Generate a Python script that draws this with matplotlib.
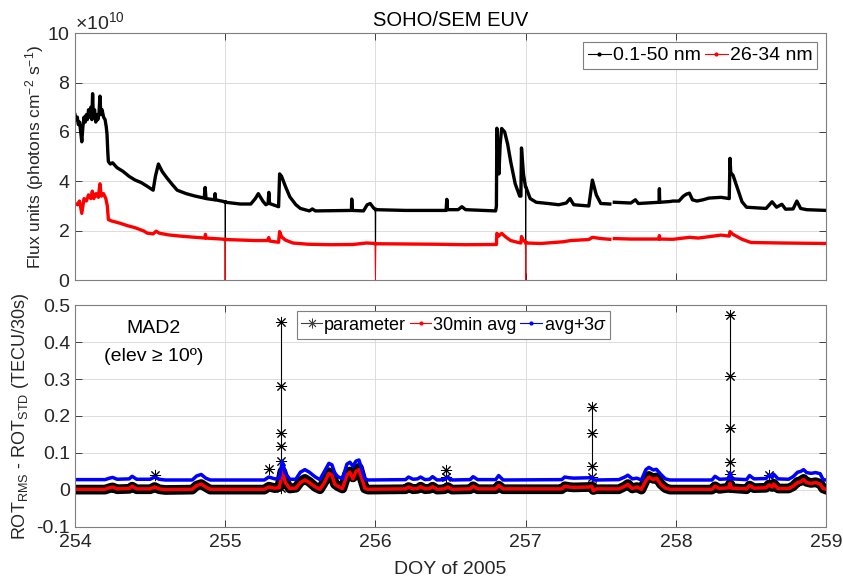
import numpy as np
import matplotlib
matplotlib.use("Agg")
import matplotlib.pyplot as plt
from matplotlib.lines import Line2D
from matplotlib.ticker import ScalarFormatter

plt.rcParams['font.family'] = ['Liberation Sans', 'DejaVu Sans']
plt.rcParams['mathtext.fontset'] = 'custom'
plt.rcParams['mathtext.rm'] = 'Liberation Sans'
plt.rcParams['mathtext.it'] = 'Liberation Sans:italic'

NAN = np.nan

# --- SOHO/SEM EUV flux (units of 1e10 photons cm^-2 s^-1) ---
# 0.1-50 nm channel
euv_broad_t = [254.000, 254.008, 254.015, 254.022, 254.030, 254.038, 254.045, 254.052, 254.060, 254.068,
               254.075, 254.082, 254.090, 254.098, 254.105, 254.112, 254.117, 254.122, 254.130, 254.138,
               254.145, 254.152, 254.160, 254.166, 254.172, 254.180, 254.190, 254.200, 254.208, 254.213,
               254.218, 254.222, 254.235, 254.25, 254.28, 254.32, 254.36, 254.40, 254.44, 254.48,
               254.52, 254.535, 254.555, 254.58, 254.61, 254.65, 254.68, 254.74, 254.80, 254.86,
               254.866, 254.872, 254.93, 254.932, 254.936, 254.998, 255.000, 255.002, 255.10, 255.17,
               255.20, 255.22, 255.25, 255.27, 255.285, 255.29, 255.295, 255.355, 255.362, 255.375,
               255.40, 255.43, 255.47, 255.50, 255.56, 255.58, 255.60, 255.84, 255.842, 255.846,
               255.92, 255.945, 255.965, 255.99, 255.998, 256.000, 256.002, 256.20, 256.47, 256.475,
               256.48, 256.55, 256.575, 256.60, 256.80, 256.805, 256.808, 256.815, 256.822, 256.83,
               256.84, 256.86, 256.88, 256.90, 256.93, 256.96, 256.968, 256.972, 256.985, 256.998,
               257.000, 257.002, 257.03, 257.07, 257.15, 257.22, 257.27, 257.295, 257.32, 257.42,
               257.444, 257.47, 257.50, 257.56, 257.575, 257.59, 257.70, 257.73, 257.75, 257.888,
               257.89, 257.892, 257.96, 257.98, 258.02, 258.05, 258.07, 258.09, 258.11, 258.14,
               258.18, 258.22, 258.30, 258.355, 258.36, 258.365, 258.38, 258.405, 258.44, 258.47,
               258.60, 258.64, 258.67, 258.705, 258.73, 258.78, 258.805, 258.83, 258.87, 259.00]
euv_broad = [6.7, 6.5, 6.6, 6.3, 6.4, 6.0, 5.6, 6.2, 6.6, 6.4,
             6.7, 6.5, 6.9, 6.6, 7.0, 6.5, 7.55, 6.6, 6.9, 6.4,
             6.7, 6.5, 6.8, 7.45, 6.7, 6.9, 6.6, 6.5, 6.2, 5.9,
             5.2, 4.8, 4.7, 4.75, 4.55, 4.4, 4.2, 4.05, 3.95, 3.8,
             3.64, 4.2, 4.7, 4.4, 4.15, 3.85, 3.64, 3.5, 3.4, 3.32,
             3.75, 3.3, 3.25, 3.5, 3.25, 3.17, 0.0, 3.15, 3.08, 3.08,
             3.3, 3.5, 3.2, 3.05, 3.1, 3.55, 3.1, 2.97, 4.3, 4.2,
             3.8, 3.37, 3.05, 2.9, 2.8, 2.88, 2.8, 2.82, 3.28, 2.82,
             2.8, 3.05, 3.1, 2.9, 2.88, 0.0, 2.85, 2.82, 2.82, 3.27,
             2.85, 2.85, 2.97, 2.85, 2.8, 3.0, 6.15, 5.0, 4.3, 5.5,
             6.14, 6.0, 5.5, 4.8, 3.9, 3.4, 3.4, 5.35, 4.3, 3.8,
             0.0, 3.75, 3.3, 3.15, 3.1, 3.05, 3.12, 3.3, 3.05, 3.0,
             4.05, 3.45, 3.1, 3.08, NAN, 3.15, 3.12, 3.25, 3.1, 3.15,
             3.7, 3.15, 3.18, 3.2, 3.2, 3.4, 3.48, 3.52, 3.25, 3.2,
             3.25, 3.32, 3.35, 3.3, 4.93, 4.35, 4.25, 3.8, 3.17, 2.95,
             2.9, 3.17, 2.95, 3.07, 2.87, 2.88, 3.2, 2.9, 2.85, 2.82]

# 26-34 nm channel
euv_band_t = [254.000, 254.015, 254.030, 254.045, 254.060, 254.075, 254.090, 254.105, 254.115, 254.125,
              254.140, 254.155, 254.166, 254.175, 254.19, 254.205, 254.215, 254.222, 254.24, 254.30,
              254.35, 254.40, 254.46, 254.48, 254.52, 254.54, 254.56, 254.62, 254.70, 254.80,
              254.866, 254.868, 254.872, 254.95, 254.998, 255.000, 255.002, 255.10, 255.20, 255.28,
              255.29, 255.295, 255.355, 255.362, 255.375, 255.40, 255.45, 255.55, 255.70, 255.85,
              255.94, 255.998, 256.000, 256.002, 256.20, 256.40, 256.60, 256.805, 256.808, 256.82,
              256.84, 256.87, 256.90, 256.95, 256.968, 256.972, 256.985, 256.998, 257.000, 257.002,
              257.10, 257.25, 257.30, 257.42, 257.444, 257.50, 257.56, 257.575, 257.59, 257.70,
              257.888, 257.89, 257.892, 257.98, 258.05, 258.09, 258.15, 258.25, 258.30, 258.355,
              258.36, 258.38, 258.44, 258.50, 258.70, 259.00]
euv_band = [3.1, 3.05, 3.2, 2.7, 3.3, 3.2, 3.45, 3.3, 3.6, 3.3,
            3.5, 3.35, 3.9, 3.4, 3.5, 3.3, 3.0, 2.45, 2.4, 2.3,
            2.2, 2.12, 1.98, 1.9, 1.87, 1.98, 1.9, 1.83, 1.78, 1.73,
            1.7, 1.85, 1.7, 1.67, 1.65, 0.0, 1.64, 1.62, 1.6, 1.6,
            1.72, 1.58, 1.53, 1.96, 1.75, 1.62, 1.5, 1.45, 1.43, 1.44,
            1.5, 1.48, 0.0, 1.47, 1.46, 1.45, 1.43, 1.44, 1.89, 1.78,
            1.89, 1.73, 1.6, 1.52, 1.5, 1.76, 1.6, 1.55, 0.0, 1.5,
            1.48, 1.55, 1.6, 1.64, 1.73, 1.68, 1.65, NAN, 1.68, 1.66,
            1.66, 1.8, 1.66, 1.65, 1.7, 1.73, 1.7, 1.78, 1.82, 1.78,
            1.96, 1.85, 1.65, 1.52, 1.5, 1.48]
EUV_SCALE = 1e10

# --- MAD2 ROT_RMS - ROT_STD (TECU/30s) ---
t_rot = [254.00, 254.20, 254.23, 254.25, 254.28, 254.36, 254.38, 254.41, 254.50, 254.53,
         254.56, 254.60, 254.78, 254.81, 254.84, 254.87, 254.90, 255.26, 255.29, 255.33,
         255.36, 255.38, 255.40, 255.43, 255.47, 255.50, 255.53, 255.56, 255.60, 255.63,
         255.66, 255.69, 255.71, 255.73, 255.75, 255.78, 255.81, 255.83, 255.85, 255.87,
         255.89, 255.91, 255.93, 255.95, 256.20, 256.22, 256.25, 256.28, 256.30, 256.33,
         256.36, 256.38, 256.41, 256.46, 256.48, 256.51, 256.63, 256.65, 256.68, 256.80,
         256.82, 256.85, 257.24, 257.26, 257.29, 257.32, 257.42, 257.44, 257.45, 257.47,
         257.62, 257.66, 257.68, 257.71, 257.74, 257.77, 257.80, 257.82, 257.85, 257.87,
         257.90, 257.93, 257.96, 258.24, 258.26, 258.29, 258.35, 258.36, 258.37, 258.47,
         258.49, 258.52, 258.60, 258.62, 258.64, 258.65, 258.68, 258.75, 258.78, 258.81,
         258.83, 258.85, 258.87, 258.90, 258.93, 258.96, 258.98, 259.00]
rot_avg = [.002, .002, .006, .008, .003, .004, .010, .003, .003, .008,
           .003, .001, .002, .012, .016, .008, .002, .002, .008, .005,
           .006, .052, .020, .004, .005, .020, .027, .020, .008, .002,
           .020, .045, .040, .015, .010, .004, .040, .048, .030, .050,
           .055, .030, .004, .002, .003, .008, .003, .004, .009, .003,
           .004, .009, .002, .003, .008, .002, .003, .010, .003, .003,
           .012, .003, .003, .010, .008, .007, .008, .010, -.002, .003,
           .003, .010, .015, .004, .008, .002, .025, .035, .028, .032,
           .015, .005, .002, .002, .010, .004, .006, .018, .005, .003,
           .012, .005, .006, .014, .008, .016, .004, .004, .010, .020,
           .022, .028, .020, .018, .020, .016, .004, .002]
rot_thr = [.028, .028, .032, .034, .029, .030, .037, .029, .029, .035,
           .029, .027, .027, .038, .042, .032, .027, .027, .035, .030,
           .031, .078, .045, .029, .029, .048, .055, .048, .035, .028,
           .050, .072, .068, .045, .036, .030, .070, .075, .064, .078,
           .081, .055, .030, .027, .028, .035, .029, .030, .035, .028,
           .029, .036, .027, .028, .035, .027, .028, .036, .028, .028,
           .039, .027, .028, .035, .033, .032, .033, .035, .027, .027,
           .028, .035, .040, .030, .032, .027, .055, .061, .054, .056,
           .042, .030, .027, .027, .037, .029, .030, .047, .030, .028,
           .039, .030, .031, .041, .034, .043, .030, .029, .036, .048,
           .050, .055, .047, .045, .047, .044, .028, .027]
rot_par = [.001, .001, .005, .007, .002, .003, .009, .002, .002, .008,
           .002, .000, .001, .012, .016, .008, .001, .001, .009, .005,
           .008, .050, .022, .004, .006, .022, .030, .022, .008, .002,
           .022, .048, .042, .016, .010, .004, .042, .050, .034, .055,
           .060, .030, .004, .001, .002, .008, .002, .003, .009, .002,
           .003, .009, .001, .002, .008, .001, .002, .010, .002, .002,
           .012, .002, .002, .010, .008, .007, .008, .010, .000, .002,
           .002, .010, .016, .004, .008, .001, .027, .038, .030, .034,
           .016, .005, .001, .001, .010, .003, .006, .016, .005, .002,
           .012, .005, .006, .015, .008, .017, .004, .004, .010, .022,
           .024, .030, .022, .019, .021, .017, .004, .001]

# isolated outliers of the parameter (NaN separates the events)
spike_t = [254.533, NAN,
           255.294, NAN,
           255.373, 255.373, 255.373, 255.373, 255.373, 255.373, NAN,
           256.470, 256.470, NAN,
           257.440, 257.440, 257.440, 257.440, 257.440, NAN,
           258.360, 258.360, 258.360, 258.360, 258.360, 258.360, NAN,
           258.620]
spike_v = [0.040, NAN,
           0.056, NAN,
           0.005, 0.077, 0.120, 0.153, 0.282, 0.455, NAN,
           0.035, 0.054, NAN,
           0.010, 0.035, 0.065, 0.153, 0.223, NAN,
           0.010, 0.043, 0.075, 0.167, 0.309, 0.474, NAN,
           0.040]

AX_GRAY = '#262626'
GRID_GRAY = '#dcdcdc'
FS = 14
STAR = (8, 2, 0)  # asterisk marker


def matlab_style(ax):
    ax.set_xlim(254, 259)
    ax.set_xticks([254, 255, 256, 257, 258, 259])
    ax.grid(True, color=GRID_GRAY, lw=0.7)
    ax.set_axisbelow(True)
    ax.tick_params(direction='in', top=True, right=True, length=5,
                   labelsize=FS, colors=AX_GRAY, width=0.6)
    ax.tick_params(axis='x', pad=5)
    for s in ax.spines.values():
        s.set_color('#7f7f7f')
        s.set_linewidth(0.8)


fig = plt.figure(figsize=(8.43, 5.83), dpi=100)
ax1 = fig.add_axes([0.089, 0.5197, 0.891, 0.4233])
ax2 = fig.add_axes([0.089, 0.0961, 0.891, 0.3807])

# top: EUV flux
tb = np.array(euv_broad_t)
vb = np.array(euv_broad) * EUV_SCALE
tr = np.array(euv_band_t)
vr = np.array(euv_band) * EUV_SCALE
ax1.plot(tb, vb, color='k', lw=0.7)
ax1.plot(tb, np.ma.masked_equal(vb, 0), color='k', lw=2.4)
ax1.plot(tr, vr, color='r', lw=0.7)
ax1.plot(tr, np.ma.masked_equal(vr, 0), color='r', lw=2.4)
matlab_style(ax1)
ax1.set_ylim(0, 10e10)
ax1.set_yticks(np.arange(0, 11e10, 2e10))
fmt = ScalarFormatter(useMathText=True)
fmt.set_powerlimits((10, 10))
ax1.yaxis.set_major_formatter(fmt)
ax1.yaxis.get_offset_text().set_fontsize(FS)
ax1.yaxis.get_offset_text().set_color(AX_GRAY)
ax1.tick_params(axis='x', labelbottom=False)
ax1.set_ylabel('Flux units (photons cm$^{-2}$ s$^{-1}$)', fontsize=12.5, color=AX_GRAY)
ax1.yaxis.set_label_coords(-0.038, 0.5)
ax1.set_title('SOHO/SEM EUV', fontsize=14.5, color='k', pad=5)
h1 = [Line2D([], [], color='k', lw=0.8, marker='.', ms=4),
      Line2D([], [], color='r', lw=0.8, marker='.', ms=4)]
leg1 = ax1.legend(h1, ['0.1-50 nm', '26-34 nm'], loc='upper right', ncol=2,
                  fontsize=14, handlelength=1.2, handletextpad=0.1, columnspacing=0.2,
                  borderpad=0.25, borderaxespad=0.45, fancybox=False, framealpha=1,
                  edgecolor='#7f7f7f')
leg1.get_frame().set_linewidth(0.8)

# bottom: ROT parameter
ax2.plot(t_rot, rot_par, color='k', lw=7, solid_joinstyle='round')
ax2.plot(spike_t, spike_v, color='k', lw=0.8, marker=STAR, ms=8, mew=0.7)
ax2.plot(t_rot, rot_avg, color='r', lw=2.5)
ax2.plot(t_rot, rot_thr, color='b', lw=2.5)
matlab_style(ax2)
ax2.set_ylim(-0.1, 0.5)
ax2.set_yticks([-0.1, 0, 0.1, 0.2, 0.3, 0.4, 0.5])
ax2.set_yticklabels(['-0.1', '0', '0.1', '0.2', '0.3', '0.4', '0.5'])
ax2.set_xticklabels(['254', '255', '256', '257', '258', '259'])
ax2.set_xlabel('DOY of 2005', fontsize=14, color=AX_GRAY, labelpad=7)
ax2.set_ylabel(r'ROT$_{\rm RMS}$ - ROT$_{\rm STD}$ (TECU/30s)', fontsize=13, color=AX_GRAY)
ax2.yaxis.set_label_coords(-0.058, 0.5)
ax2.text(0.105, 0.895, 'MAD2', transform=ax2.transAxes, ha='center', va='center', fontsize=14)
ax2.text(0.105, 0.77, '(elev \u2265 10\u00ba)', transform=ax2.transAxes, ha='center', va='center',
         fontsize=14)
h2 = [Line2D([], [], color='#404040', lw=0.8, marker=STAR, ms=7, mew=0.6),
      Line2D([], [], color='r', lw=0.8, marker='.', ms=4),
      Line2D([], [], color='b', lw=0.8, marker='.', ms=4)]
leg2 = ax2.legend(h2, ['parameter', '30min avg', r'avg+3$\it{\sigma}$'], loc='upper left',
                  bbox_to_anchor=(0.2956, 0.973), ncol=3, fontsize=13, handlelength=1.2,
                  handletextpad=0.1, columnspacing=0.2, borderpad=0.2, borderaxespad=0,
                  fancybox=False, framealpha=1, edgecolor='#7f7f7f')
leg2.get_frame().set_linewidth(0.8)

fig.savefig('out.png', dpi=100)
